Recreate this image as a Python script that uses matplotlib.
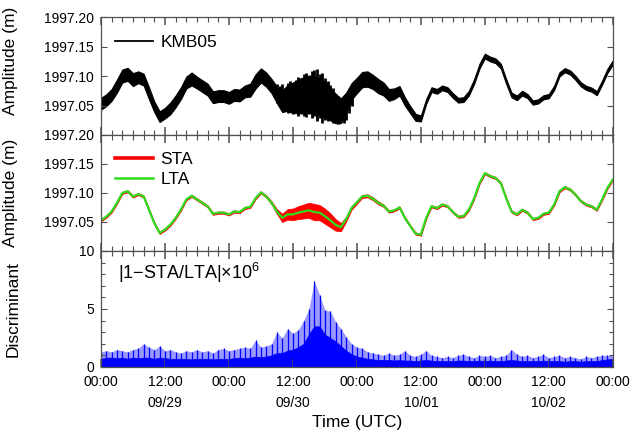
import matplotlib
matplotlib.use('Agg')
import matplotlib.pyplot as plt
import numpy as np
from matplotlib.lines import Line2D
from matplotlib.ticker import MultipleLocator

plt.rcParams['font.family'] = ['Liberation Sans', 'DejaVu Sans']
plt.rcParams['mathtext.fontset'] = 'custom'
plt.rcParams['mathtext.rm'] = 'Liberation Sans'
plt.rcParams['mathtext.it'] = 'Liberation Sans'

# hourly samples, 09/29 00:00 -> 10/03 00:00
hours = np.arange(97)

# long term average (m); KMB05 raw trace sits on top of it
lta = np.array([
    1997.053, 1997.059, 1997.068, 1997.083, 1997.100, 1997.103, 1997.094, 1997.098,
    1997.094, 1997.071, 1997.048, 1997.031, 1997.037, 1997.045, 1997.057, 1997.071,
    1997.089, 1997.095, 1997.089, 1997.083, 1997.077, 1997.064, 1997.066, 1997.066,
    1997.063, 1997.068, 1997.067, 1997.074, 1997.076, 1997.091, 1997.101, 1997.094,
    1997.083, 1997.068, 1997.057, 1997.063, 1997.063, 1997.066, 1997.068, 1997.070,
    1997.067, 1997.066, 1997.060, 1997.053, 1997.045, 1997.041, 1997.055, 1997.074,
    1997.084, 1997.094, 1997.095, 1997.090, 1997.083, 1997.078, 1997.068, 1997.070,
    1997.075, 1997.057, 1997.043, 1997.030, 1997.028, 1997.057, 1997.077, 1997.074,
    1997.080, 1997.077, 1997.067, 1997.059, 1997.060, 1997.071, 1997.091, 1997.117,
    1997.134, 1997.129, 1997.126, 1997.117, 1997.091, 1997.068, 1997.063, 1997.071,
    1997.066, 1997.055, 1997.057, 1997.064, 1997.066, 1997.080, 1997.103, 1997.110,
    1997.106, 1997.097, 1997.086, 1997.080, 1997.077, 1997.071, 1997.089, 1997.109,
    1997.123])

# half width of the dense KMB05 band (m)
kmb_spread = np.array([
    0.010, 0.010, 0.010, 0.011, 0.011, 0.011, 0.011, 0.010,
    0.010, 0.010, 0.009, 0.009, 0.009, 0.010, 0.010, 0.010,
    0.010, 0.011, 0.010, 0.010, 0.010, 0.010, 0.010, 0.010,
    0.010, 0.010, 0.010, 0.010, 0.011, 0.012, 0.012, 0.012,
    0.012, 0.014, 0.018, 0.022, 0.026, 0.028, 0.030, 0.031,
    0.032, 0.031, 0.030, 0.028, 0.025, 0.021, 0.017, 0.014,
    0.013, 0.013, 0.013, 0.012, 0.012, 0.011, 0.010, 0.009,
    0.008, 0.007, 0.006, 0.006, 0.005, 0.004, 0.004, 0.004,
    0.004, 0.004, 0.004, 0.004, 0.004, 0.004, 0.004, 0.004,
    0.004, 0.004, 0.004, 0.004, 0.004, 0.004, 0.004, 0.004,
    0.0035, 0.0035, 0.0035, 0.0035, 0.0035, 0.0035, 0.0035, 0.0035,
    0.0035, 0.0035, 0.0035, 0.0035, 0.0035, 0.0035, 0.0035, 0.0035,
    0.0035])

# noisy stretch of KMB05 (09/30 09:00 - 23:00), half-hourly spike extremes (m)
noisy_hours = np.arange(33, 47.5, 0.5)
kmb_spike_top = np.array([
    1997.086, 1997.083, 1997.086, 1997.080, 1997.089, 1997.092, 1997.087, 1997.093,
    1997.099, 1997.096, 1997.104, 1997.106, 1997.099, 1997.108, 1997.110, 1997.112,
    1997.104, 1997.106, 1997.096, 1997.092, 1997.085, 1997.080, 1997.070, 1997.066,
    1997.062, 1997.059, 1997.063, 1997.072, 1997.078])
kmb_spike_bottom = np.array([
    1997.055, 1997.049, 1997.046, 1997.043, 1997.037, 1997.040, 1997.035, 1997.037,
    1997.032, 1997.036, 1997.033, 1997.030, 1997.035, 1997.028, 1997.032, 1997.024,
    1997.029, 1997.020, 1997.026, 1997.023, 1997.028, 1997.020, 1997.024, 1997.019,
    1997.022, 1997.020, 1997.026, 1997.037, 1997.049])

# half width of the short term average band (m)
sta_spread = np.array([
    0.0018, 0.0018, 0.0018, 0.0018, 0.0018, 0.0018, 0.0018, 0.0018,
    0.0018, 0.0018, 0.0018, 0.0018, 0.0018, 0.0018, 0.0018, 0.0018,
    0.0018, 0.0018, 0.0018, 0.0018, 0.0018, 0.0018, 0.0018, 0.0018,
    0.0018, 0.0018, 0.0018, 0.0018, 0.0018, 0.0018, 0.0018, 0.0020,
    0.0025, 0.004, 0.007, 0.009, 0.010, 0.011, 0.012, 0.013,
    0.014, 0.013, 0.013, 0.012, 0.010, 0.007, 0.004, 0.003,
    0.0025, 0.0025, 0.0025, 0.0025, 0.0025, 0.0020, 0.0018, 0.0018,
    0.0018, 0.0018, 0.0018, 0.0018, 0.0018, 0.0018, 0.0018, 0.0018,
    0.0018, 0.0018, 0.0018, 0.0018, 0.0018, 0.0018, 0.0018, 0.0018,
    0.0018, 0.0018, 0.0018, 0.0018, 0.0018, 0.0018, 0.0018, 0.0018,
    0.0018, 0.0018, 0.0018, 0.0018, 0.0018, 0.0018, 0.0018, 0.0018,
    0.0018, 0.0018, 0.0018, 0.0018, 0.0018, 0.0018, 0.0018, 0.0018,
    0.0018])

# discriminant |1-STA/LTA| x 1e6: dense floor and spike tops
disc_base = np.array([
    0.7, 0.8, 0.8, 0.75, 0.8, 0.7, 0.8, 0.75, 0.8, 0.8, 0.7, 0.8,
    0.75, 0.7, 0.7, 0.7, 0.7, 0.65, 0.7, 0.7, 0.7, 0.65, 0.7, 0.7,
    0.7, 0.75, 0.8, 0.75, 0.8, 0.9, 0.85, 0.9, 1.0, 1.2, 1.2, 1.4,
    1.5, 1.7, 2.0, 2.8, 3.5, 3.5, 2.8, 2.5, 2.2, 1.8, 1.4, 1.1,
    0.9, 0.8, 0.7, 0.65, 0.6, 0.6, 0.6, 0.55, 0.6, 0.55, 0.55, 0.5,
    0.55, 0.6, 0.55, 0.5, 0.5, 0.5, 0.5, 0.55, 0.55, 0.5, 0.5, 0.55,
    0.5, 0.55, 0.5, 0.5, 0.55, 0.6, 0.55, 0.5, 0.5, 0.5, 0.5, 0.55,
    0.5, 0.5, 0.5, 0.45, 0.5, 0.5, 0.45, 0.5, 0.5, 0.5, 0.6, 0.65,
    0.7])
disc_peak = np.array([
    1.3, 1.4, 1.3, 1.5, 1.4, 1.3, 1.5, 1.6, 2.0, 1.7, 1.5, 1.8,
    1.4, 1.5, 1.3, 1.2, 1.4, 1.3, 1.5, 1.3, 1.4, 1.2, 1.5, 1.6,
    1.4, 1.5, 1.6, 1.7, 1.6, 2.3, 1.7, 1.8, 2.0, 3.0, 2.5, 3.3,
    2.9, 3.2, 4.0, 5.0, 7.4, 6.2, 4.9, 4.8, 3.9, 3.3, 2.6, 2.0,
    1.7, 1.6, 1.3, 1.2, 1.1, 1.0, 1.2, 1.0, 1.1, 1.4, 1.0, 0.9,
    1.1, 1.4, 1.0, 0.9, 0.8, 0.9, 0.8, 1.0, 1.1, 0.9, 0.8, 1.0,
    0.9, 1.0, 0.8, 0.9, 1.0, 1.5, 1.1, 0.9, 1.0, 0.8, 0.9, 1.1,
    0.8, 0.9, 1.0, 0.8, 0.9, 0.8, 0.7, 0.9, 0.8, 0.9, 1.0, 1.0,
    1.0])

tick_hours = np.arange(0, 97, 12)
tick_labels = ['00:00', '12:00\n09/29', '00:00', '12:00\n09/30', '00:00',
               '12:00\n10/01', '00:00', '12:00\n10/02', '00:00']

fig = plt.figure(figsize=(6.43, 4.41), dpi=100)
left, width = 0.157, 0.796
ax1 = fig.add_axes([left, 0.694, width, 0.267])
ax2 = fig.add_axes([left, 0.431, width, 0.263])
ax3 = fig.add_axes([left, 0.168, width, 0.263])

spine_col = '#505050'
for ax in (ax1, ax2, ax3):
    ax.set_xlim(0, 96)
    ax.xaxis.set_major_locator(MultipleLocator(12))
    ax.xaxis.set_minor_locator(MultipleLocator(2))
    ax.tick_params(which='both', direction='in', top=True, right=True,
                   colors=spine_col, labelcolor='black', labelsize=10)
    ax.tick_params(axis='x', which='major', length=6, width=1.1)
    ax.tick_params(axis='x', which='minor', length=3.5, width=0.8)
    ax.tick_params(axis='y', which='major', length=4.5, width=0.8, pad=5)
    ax.tick_params(axis='y', which='minor', length=3, width=0.8)
    for s in ax.spines.values():
        s.set_color(spine_col)
        s.set_linewidth(0.9)

# top: raw KMB05 record
ax1.fill_between(hours, lta - kmb_spread, lta + kmb_spread, color='black', lw=0.8)
ax1.vlines(noisy_hours, kmb_spike_bottom, kmb_spike_top, color='black', lw=2.0)
ax1.set_ylim(1997.0, 1997.2)
ax1.set_yticks([1997.05, 1997.10, 1997.15, 1997.20])
ax1.set_yticklabels(['1997.05', '1997.10', '1997.15', '1997.20'])
ax1.tick_params(labelbottom=False)
ax1.legend([Line2D([], [], color='black', lw=1.3)], ['KMB05'], loc='upper left',
           bbox_to_anchor=(0.028, 0.85), frameon=False, fontsize=12.5,
           handlelength=2.2, handletextpad=0.4, borderaxespad=0, borderpad=0)
ax1.set_ylabel('Amplitude (m)', fontsize=12.5)
ax1.yaxis.set_label_coords(-0.162, 0.63)

# middle: STA and LTA
ax2.fill_between(hours, lta - sta_spread, lta + sta_spread, color='#ff0000', lw=0.6)
ax2.plot(hours, lta, color='#2edc1e', lw=1.6)
ax2.set_ylim(1997.0, 1997.2)
ax2.set_yticks([1997.05, 1997.10, 1997.15, 1997.20])
ax2.set_yticklabels(['1997.05', '1997.10', '1997.15', '1997.20'])
ax2.tick_params(labelbottom=False)
ax2.legend([Line2D([], [], color='#ff0000', lw=2.6), Line2D([], [], color='#2edc1e', lw=1.8)],
           ['STA', 'LTA'], loc='upper left', bbox_to_anchor=(0.028, 0.855),
           frameon=False, fontsize=12.5, handlelength=2.2, handletextpad=0.4,
           labelspacing=0.3, borderaxespad=0, borderpad=0)
ax2.set_ylabel('Amplitude (m)', fontsize=12.5)
ax2.yaxis.set_label_coords(-0.162, 0.5)

# bottom: discriminant
ax3.fill_between(hours, 0, disc_peak, color='#0000ff', alpha=0.4, lw=0)
ax3.vlines(hours, 0, disc_peak, color='#0000ff', lw=0.9)
ax3.fill_between(hours, 0, disc_base, color='#0000ff', lw=0.5)
ax3.set_ylim(0, 10)
ax3.yaxis.set_major_locator(MultipleLocator(5))
ax3.yaxis.set_minor_locator(MultipleLocator(1))
ax3.set_xticks(tick_hours)
ax3.set_xticklabels(tick_labels, linespacing=1.6)
ax3.tick_params(axis='x', pad=6)
ax3.text(0.033, 0.81, r'$|$1$-$STA/LTA$|$$\times$10$^{6}$', transform=ax3.transAxes,
         fontsize=13, va='center', ha='left')
ax3.set_ylabel('Discriminant', fontsize=12.5)
ax3.yaxis.set_label_coords(-0.156, 0.5)
ax3.set_xlabel('Time (UTC)', fontsize=12.5, labelpad=4)

fig.savefig('out.png', dpi=100)
